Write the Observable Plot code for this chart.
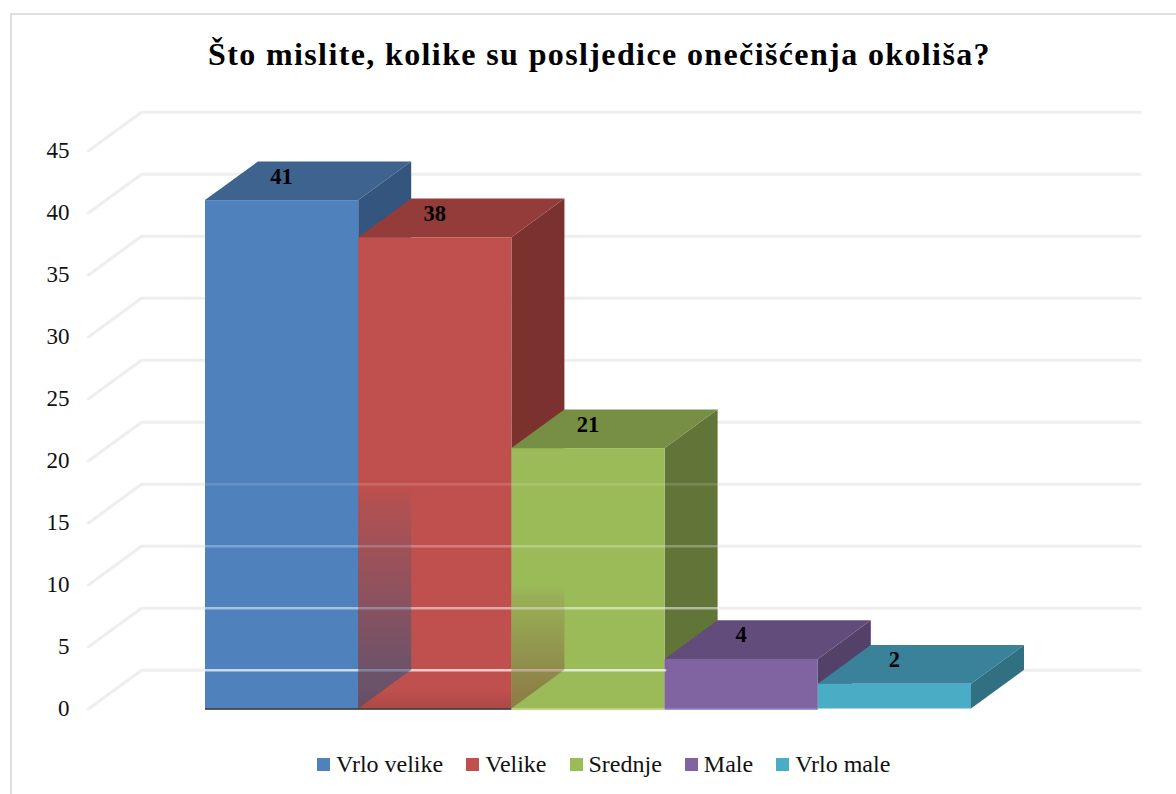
<!DOCTYPE html>
<html>
<head>
<meta charset="utf-8">
<script src="https://cdn.jsdelivr.net/npm/d3@7"></script>
<script src="https://cdn.jsdelivr.net/npm/@observablehq/plot@0.6"></script>
<style>
  html, body { margin: 0; padding: 0; background: #fff; }
  #page { position: relative; width: 1176px; height: 794px; overflow: hidden; font-family: "Liberation Serif", serif; color: #111; }
  #frame { position: absolute; left: 10px; top: 13px; width: 1200px; height: 820px; border: 2px solid #dfdfdf; box-sizing: border-box; }
  #title { position: relative; height: 90px; box-sizing: border-box; padding: 34px 0 0 23px; text-align: center; font-size: 32px; line-height: 40px; font-weight: bold; letter-spacing: 1.38px; color: #000; }
  #chart { position: relative; height: 640px; }
  #chart svg { display: block; background: transparent; }
  #legend { position: relative; height: 64px; display: flex; justify-content: flex-start; align-items: center; padding: 4px 0 0 317px; box-sizing: border-box; font-size: 24px; }
  #legend .item { display: flex; align-items: center; margin-right: 23px; }
  #legend .sw { width: 13px; height: 13px; margin-right: 6px; display: inline-block; }
</style>
</head>
<body>
<div id="page">
  <div id="frame"></div>
  <div id="title"></div>
  <div id="chart"></div>
  <div id="legend"></div>
</div>
<script>
const titleText = "Što mislite, kolike su posljedice onečišćenja okoliša?";
const categories = ["Vrlo velike", "Velike", "Srednje", "Male", "Vrlo male"];
const values = [41, 38, 21, 4, 2];
const frontColors = ["#4f81bd", "#c0504d", "#9bbb59", "#8064a2", "#4bacc6"];
const topColors = ["#3e638f", "#933c3a", "#778f44", "#624c7c", "#39829a"];
const sideColors = ["#34557d", "#7b322f", "#627539", "#54416a", "#316f82"];
const yTicks = [0, 5, 10, 15, 20, 25, 30, 35, 40, 45];
const depthX = 0.346;
const depthY = 3.12;
const wallLeft = -0.764;
const wallRight = 6.1;
const sheenOpacity = [0.7, 0.5, 0.28, 0.14];

document.getElementById("title").textContent = titleText;

const defs = () => {
  const d = d3.create("svg:defs");
  const grad = (id, color, stops) => {
    const g = d.append("linearGradient").attr("id", id).attr("x1", 0).attr("y1", 0).attr("x2", 0).attr("y2", 1);
    stops.forEach(([o, a]) => g.append("stop").attr("offset", o).attr("stop-color", color).attr("stop-opacity", a));
  };
  grad("shadeBlue", "#34557d", [[0, 0], [0.08, 0.1], [0.85, 0.6], [1, 0.62]]);
  grad("shadeRed", "#7b322f", [[0, 0], [0.1, 0.08], [0.85, 0.42], [1, 0.46]]);
  grad("shadeBase", "#5a2a30", [[0, 0], [1, 0.2]]);
  return d.node();
};

const wallLines = yTicks.map(v => Plot.line(
  [[wallLeft, v], [wallLeft + depthX, v + depthY], [wallRight, v + depthY]],
  {x: d => d[0], y: d => d[1], stroke: "#eeeeee", strokeWidth: 3, curve: "linear", strokeLinejoin: "round"}
));

const bars = values.flatMap((v, i) => [
  Plot.areaY([[i + 1, 0, v], [i + 1 + depthX, depthY, v + depthY]],
    {x: d => d[0], y1: d => d[1], y2: d => d[2], fill: sideColors[i], curve: "linear"}),
  Plot.areaX([[v, i, i + 1], [v + depthY, i + depthX, i + 1 + depthX]],
    {y: d => d[0], x1: d => d[1], x2: d => d[2], fill: topColors[i], curve: "linear"}),
  Plot.rect([[i, i + 1, v]],
    {x1: d => d[0], x2: d => d[1], y1: 0, y2: d => d[2], fill: frontColors[i]})
]);

// pale reflections of the back wall lines crossing the three tall bars
const sheen = sheenOpacity.map((o, k) => Plot.line(
  [[0, yTicks[k] + depthY], [k === 0 ? 3 : 3 + depthX, yTicks[k] + depthY]],
  {x: d => d[0], y: d => d[1], stroke: "#ffffff", strokeWidth: 2.5, strokeOpacity: o}
));

// see-through side faces of the first two bars
const shadows = [
  Plot.areaY([[1, 0, 18], [1 + depthX, depthY, 18]],
    {x: d => d[0], y1: d => d[1], y2: d => d[2], fill: "url(#shadeBlue)", curve: "linear"}),
  Plot.areaY([[2, 0, 10], [2 + depthX, depthY, 10]],
    {x: d => d[0], y1: d => d[1], y2: d => d[2], fill: "url(#shadeRed)", curve: "linear"}),
  Plot.rect([[1, 2]],
    {x1: d => d[0], x2: d => d[1], y1: 0, y2: 1.6, fill: "url(#shadeBase)"})
];

const chart = Plot.plot({
  width: 1176,
  height: 640,
  marginLeft: 80,
  marginTop: 0,
  marginBottom: 0,
  marginRight: 0,
  style: {background: "transparent", overflow: "visible"},
  x: {domain: [0, 5], range: [205, 971], axis: null},
  y: {domain: [0, 45], range: [618.5, 60.5], label: null},
  marks: [
    defs,
    ...wallLines,
    ...bars,
    ...sheen,
    ...shadows,
    Plot.ruleY([0], {x1: 2, x2: 3, stroke: "#bcd284", strokeWidth: 2}),
    Plot.ruleY([0], {x1: 3, x2: 4, stroke: "#7a6fc0", strokeWidth: 1.5}),
    Plot.ruleY([0], {x1: 0, x2: 2, stroke: "#262626", strokeWidth: 1.5}),
    Plot.text(values, {
      x: (d, i) => i + 0.5,
      y: d => d + 1.95,
      text: d => String(d),
      dx: -0.5,
      fontFamily: "Liberation Serif",
      fontWeight: "bold",
      fontSize: 22.5,
      fill: "#000"
    }),
    Plot.axisY({
      ticks: yTicks,
      tickSize: 0,
      tickPadding: 11,
      label: null,
      anchor: "left",
      fontFamily: "Liberation Serif",
      fontSize: 23,
      color: "#111"
    })
  ]
});
document.getElementById("chart").append(chart);

const legend = document.getElementById("legend");
categories.forEach((c, i) => {
  const item = document.createElement("div");
  item.className = "item";
  const sw = document.createElement("span");
  sw.className = "sw";
  sw.style.background = frontColors[i];
  const t = document.createElement("span");
  t.textContent = c;
  item.append(sw, t);
  legend.append(item);
});
</script>
</body>
</html>
